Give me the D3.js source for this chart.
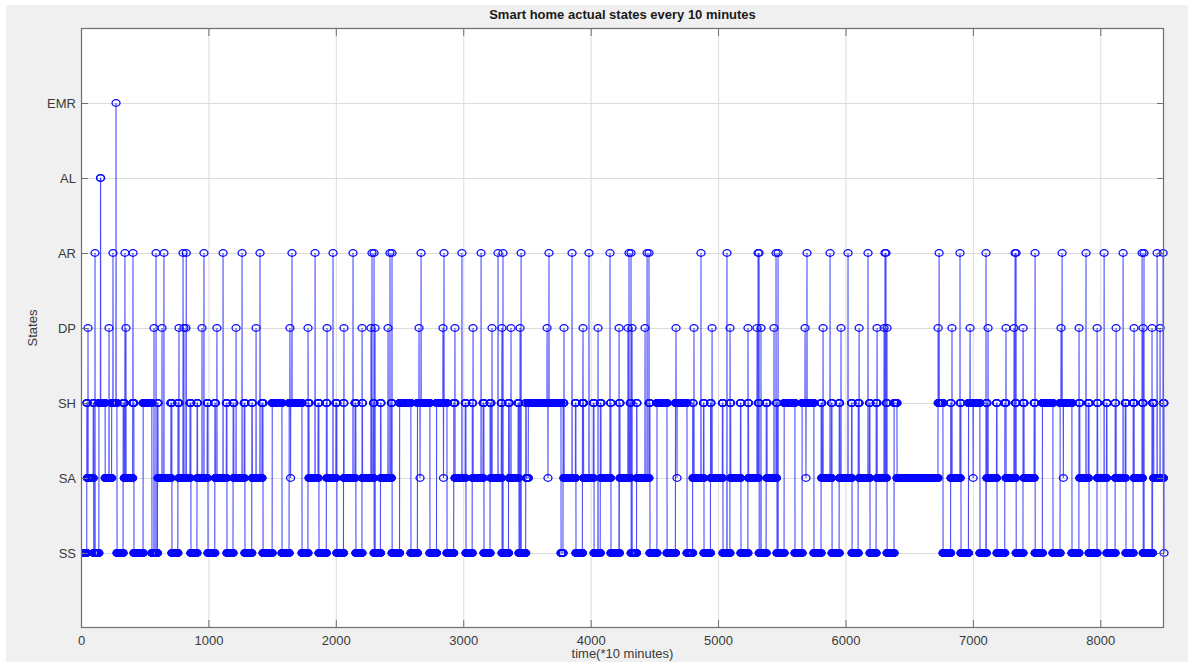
<!DOCTYPE html>
<html><head><meta charset="utf-8">
<script src="https://cdn.jsdelivr.net/npm/d3@7"></script>
<style>
body{margin:0;background:#fff;}
svg{display:block;font-family:"Liberation Sans",Arial,Helvetica,sans-serif;}
</style>
</head><body>
<svg id="chart" width="1188" height="664"></svg>
<script>
// ---------- data ----------
const stateLabels = ["SS","SA","SH","DP","AR","AL","EMR"];
const xTickValues = [0,1000,2000,3000,4000,5000,6000,7000,8000];
const timeMax = 8500;
const defaultState = "SH";

// runs of consecutive SS samples [start, end] (time index)
const ssRuns = [[0,45],[100,140],[283,330],[416,487],[557,600],[714,760],[863,910],[997,1050],
  [1146,1193],[1287,1340],[1429,1500],[1578,1633],[1735,1782],[1868,1925],[2009,2060],[2158,2205],
  [2300,2350],[2441,2500],[2590,2640],[2739,2790],[2873,2925],[3022,3070],[3163,3210],[3304,3355],
  [3438,3490],[3768,3783],[3885,3935],[4027,4075],[4160,4225],[4317,4360],[4466,4520],[4600,4665],
  [4757,4800],[4890,4940],[5039,5094],[5180,5235],[5322,5377],[5463,5518],[5604,5659],[5753,5808],
  [5895,5950],[6052,6099],[6193,6240],[6326,6381],[6766,6825],[6907,6965],[7056,7105],[7190,7250],
  [7339,7394],[7488,7545],[7629,7684],[7778,7833],[7912,7975],[8053,8116],[8202,8257],[8336,8410],
  [8500,8500]];

// runs of consecutive SA samples [start, end]
const saRuns = [[50,95],[190,240],[340,405],[605,705],[770,855],[915,990],[1055,1140],[1200,1280],
  [1345,1420],[1790,1860],[1930,2000],[2065,2150],[2210,2295],[2355,2435],[2935,3015],[3075,3155],
  [3218,3298],[3362,3430],[3495,3510],[3790,3880],[3945,4020],[4082,4155],[4231,4310],[4364,4458],
  [4804,4885],[4945,5033],[5100,5175],[5240,5315],[5385,5458],[5815,5890],[5955,6047],[6107,6188],
  [6248,6320],[6405,6727],[6829,6900],[7111,7185],[7261,7333],[7402,7480],[7840,7905],[7980,8048],
  [8120,8195],[8265,8330],[8420,8495]];

// isolated SA samples
const saSingles = [1645,2661,2845,3665,4678,5690,7002,7710];

// isolated DP samples
const dpTimes = [55,220,353,573,636,769,808,824,950,1067,1217,1374,1640,1782,1931,2064,2206,2276,2308,
  2410,2653,2841,2935,3077,3226,3304,3375,3446,3658,3791,3940,4058,4223,4293,4325,4427,4670,4811,4953,
  5094,5235,5306,5337,5439,5683,5824,5965,6107,6248,6303,6326,6727,6836,6978,7119,7260,7323,7394,7692,
  7833,7975,8124,8265,8336,8406,8469];

// isolated AR samples
const arTimes = [110,251,345,408,589,651,801,826,965,1115,1264,1405,1656,1837,1978,2135,2284,2300,2425,
  2441,2669,2849,2990,3140,3273,3312,3454,3673,3854,3987,4152,4301,4317,4443,4458,4866,5070,5314,5322,
  5455,5471,5698,5879,6020,6177,6310,6318,6735,6899,7103,7331,7339,7488,7700,7888,8030,8179,8328,8343,
  8446,8493];

const alTimes = [153,154];
const emrTimes = [275];

// ---------- build the sample series ----------
const series = [];
for (let t = 0; t <= timeMax; t++) series.push({t: t, s: defaultState});
function setRun(runs, st){ runs.forEach(([a,b]) => { for (let t=a;t<=b;t++) series[t].s = st; }); }
function setPts(pts, st){ pts.forEach(t => { series[t].s = st; }); }
setRun(ssRuns, "SS");
setRun(saRuns, "SA");
setPts(saSingles, "SA");
setPts(dpTimes, "DP");
setPts(arTimes, "AR");
setPts(alTimes, "AL");
setPts(emrTimes, "EMR");
const stateIndex = s => stateLabels.indexOf(s) + 1;

// ---------- drawing ----------
const svg = d3.select("#chart");
const W = 1188, H = 664;
const L = 81, R = 1164, T = 28, B = 628;

svg.append("rect").attr("x",6).attr("y",5).attr("width",W-6).attr("height",662-5).attr("fill","#f0f0f0");
svg.append("rect").attr("x",L).attr("y",T).attr("width",R-L).attr("height",B-T).attr("fill","#ffffff");

const x = d3.scaleLinear().domain([0,8500]).range([L,R]);
const y = d3.scaleLinear().domain([0,8]).range([B,T]);
const yTickValues = stateLabels.map((d,i)=>i+1);

// grid
const grid = svg.append("g");
grid.selectAll("line.gx").data(xTickValues.filter(v=>v>0)).join("line")
  .attr("x1",d=>x(d)+0.5).attr("x2",d=>x(d)+0.5).attr("y1",T).attr("y2",B)
  .attr("stroke","#dcdcdc").attr("stroke-width",1);
grid.selectAll("line.gy").data(yTickValues).join("line")
  .attr("y1",d=>Math.round(y(d))+0.5).attr("y2",d=>Math.round(y(d))+0.5).attr("x1",L).attr("x2",R)
  .attr("stroke","#dcdcdc").attr("stroke-width",1);

// data
const plot = svg.append("g");
svg.append("clipPath").attr("id","clip").append("rect").attr("x",L).attr("y",T).attr("width",R-L+6).attr("height",B-T);
plot.attr("clip-path","url(#clip)");
const line = d3.line().x(d=>x(d.t)).y(d=>y(stateIndex(d.s)));
plot.append("path").datum(series).attr("d",line).attr("fill","none")
  .attr("stroke","#0000ff").attr("stroke-width",1.1).attr("stroke-opacity",0.7);
plot.append("g").selectAll("ellipse").data(series).join("ellipse")
  .attr("cx",d=>x(d.t)).attr("cy",d=>y(stateIndex(d.s))).attr("rx",4).attr("ry",3.3)
  .attr("fill","none").attr("stroke","#0a0aff").attr("stroke-width",1.3);

// axes
const axColor = "#6e6e6e";
const gx = svg.append("g").attr("transform",`translate(0,${B})`)
  .call(d3.axisBottom(x).tickValues(xTickValues).tickFormat(d3.format("d")).tickSizeInner(-8).tickSizeOuter(0).tickPadding(8));
const gxt = svg.append("g").attr("transform",`translate(0,${T})`)
  .call(d3.axisTop(x).tickValues(xTickValues).tickSizeInner(-8).tickSizeOuter(0).tickFormat(""));
const gy = svg.append("g").attr("transform",`translate(${L},0)`)
  .call(d3.axisLeft(y).tickValues(yTickValues).tickFormat(d=>stateLabels[d-1]).tickSizeInner(-7).tickSizeOuter(0).tickPadding(5));
const gyr = svg.append("g").attr("transform",`translate(${R},0)`)
  .call(d3.axisRight(y).tickValues(yTickValues).tickFormat("").tickSizeInner(-7).tickSizeOuter(0));
[gx,gxt,gy,gyr].forEach(g=>{
  g.select(".domain").remove();
  g.selectAll("line").attr("stroke",axColor);
  g.selectAll("text").attr("fill","#3a3a3a").style("font-size","13px");
});
svg.append("rect").attr("x",L+0.5).attr("y",T+0.5).attr("width",R-L-1).attr("height",B-T-1)
  .attr("fill","none").attr("stroke",axColor).attr("stroke-width",1.2);

// labels
svg.append("text").attr("x",(L+R)/2).attr("y",19).attr("text-anchor","middle")
  .style("font-size","13px").style("font-weight","bold").attr("fill","#1a1a1a")
  .text("Smart home actual states every 10 minutes");
svg.append("text").attr("x",(L+R)/2).attr("y",658).attr("text-anchor","middle")
  .style("font-size","13px").attr("fill","#3a3a3a").text("time(*10 minutes)");
svg.append("text").attr("transform",`translate(37,${(T+B)/2}) rotate(-90)`).attr("text-anchor","middle")
  .style("font-size","13px").attr("fill","#3a3a3a").text("States");
</script>
</body></html>
